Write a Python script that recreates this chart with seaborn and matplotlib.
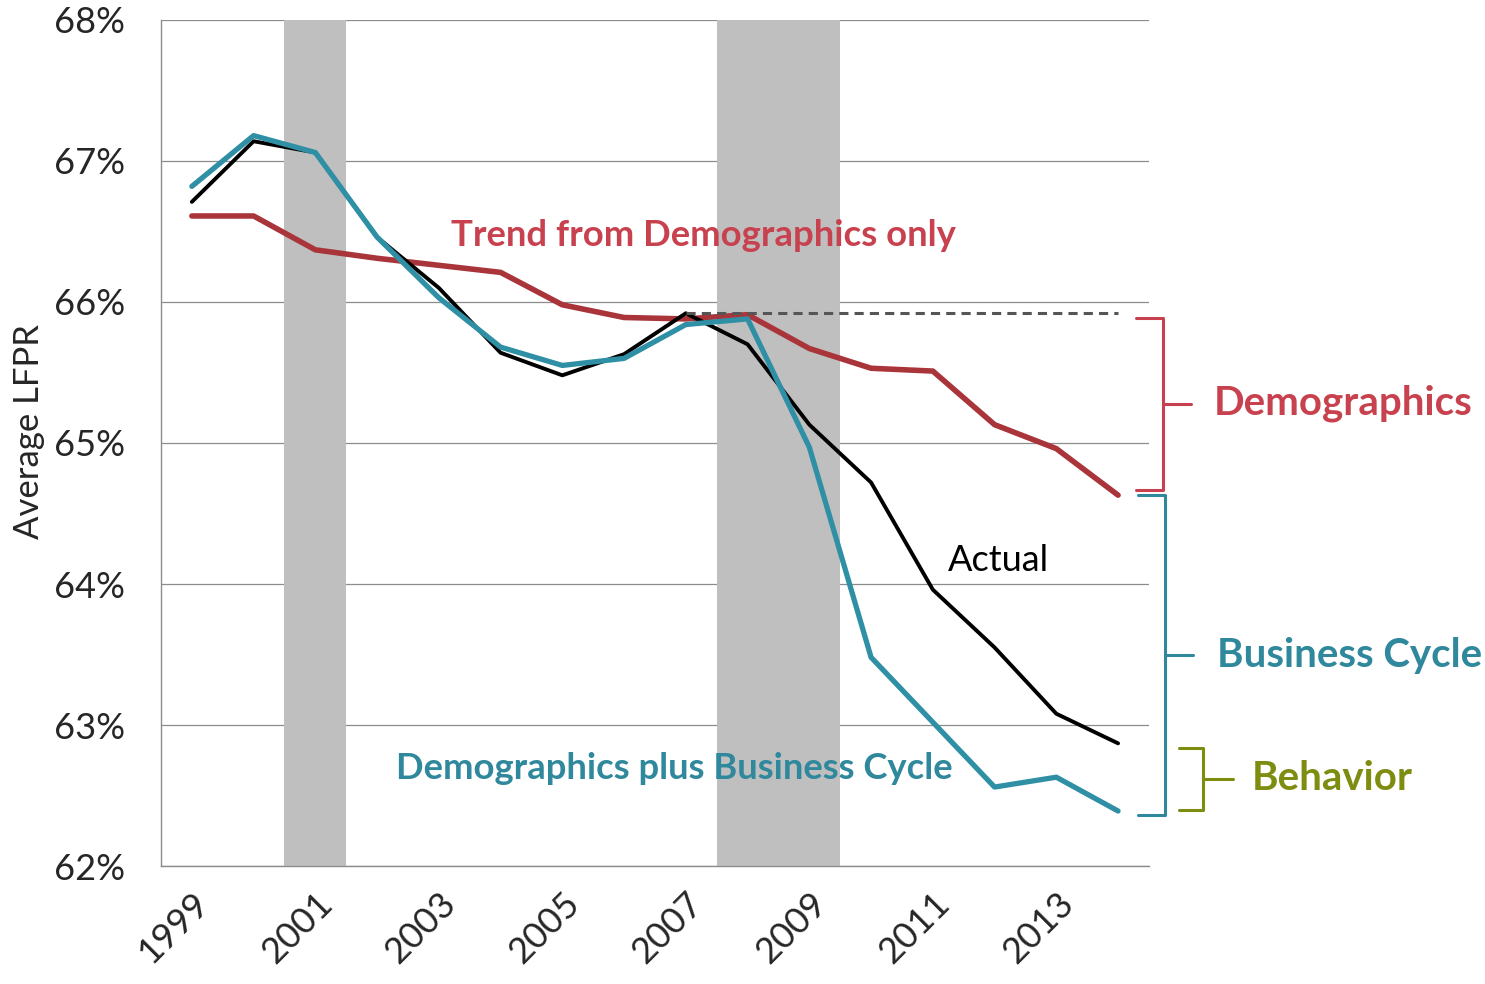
import matplotlib
matplotlib.use("Agg")
from matplotlib import pyplot as plt
import pandas as pd
import seaborn as sns

years = [1999, 2000, 2001, 2002, 2003, 2004, 2005, 2006,
         2007, 2008, 2009, 2010, 2011, 2012, 2013, 2014]
actual = [66.71, 67.14, 67.06, 66.46, 66.10, 65.64, 65.48, 65.63,
          65.92, 65.70, 65.13, 64.72, 63.96, 63.55, 63.08, 62.87]
demo_trend = [66.61, 66.61, 66.37, 66.31, 66.26, 66.21, 65.98, 65.89,
              65.88, 65.91, 65.67, 65.53, 65.51, 65.13, 64.96, 64.63]
demo_plus_cycle = [66.82, 67.18, 67.06, 66.46, 66.03, 65.68, 65.55, 65.60,
                   65.84, 65.88, 64.97, 63.48, 63.02, 62.56, 62.63, 62.39]
recession_years = [2001, 2008, 2009]
peak_year = 2007
y_ticks = [62, 63, 64, 65, 66, 67, 68]

RED_LINE = "#a9353b"
RED_TEXT = "#c8414e"
TEAL_LINE = "#2f90a5"
TEAL_TEXT = "#2f889c"
GREEN = "#7e8c10"
GRID = "#8c8c8c"

sns.set_style("white")
plt.rcParams["font.family"] = ["Lato", "DejaVu Sans"]

df = pd.DataFrame({"idx": range(len(years)), "year": years,
                   "actual": actual, "trend": demo_trend, "cycle": demo_plus_cycle})

fig = plt.figure(figsize=(14.85, 9.84), dpi=100)
ax = fig.add_axes([0.1084, 0.1199, 0.6653, 0.8598])

# recession shading
for yr in recession_years:
    i = years.index(yr)
    ax.axvspan(i - 0.5, i + 0.5, color="#bfbfbf", lw=0, zorder=1)

sns.lineplot(data=df, x="idx", y="trend", color=RED_LINE, lw=4, ax=ax, zorder=3)
sns.lineplot(data=df, x="idx", y="actual", color="black", lw=2.8, ax=ax, zorder=4)
sns.lineplot(data=df, x="idx", y="cycle", color=TEAL_LINE, lw=3.8, ax=ax, zorder=5)

# dashed level from the pre-recession peak
p = years.index(peak_year)
ax.hlines(actual[p], p, len(years) - 1, colors="#555555", lw=2.2,
          linestyles=(0, (3, 2)), zorder=6)

ax.set_xlim(-0.5, len(years) - 0.5)
ax.set_ylim(y_ticks[0], y_ticks[-1])
ax.set_yticks(y_ticks)
ax.set_yticklabels([f"{v}%" for v in y_ticks])
ax.set_xticks(range(0, len(years), 2))
ax.set_xticklabels([str(y) for y in years[::2]], rotation=45, ha="right",
                   rotation_mode="anchor")
ax.set_xticks([i - 0.5 for i in range(len(years) + 1)], minor=True)
ax.tick_params(axis="x", which="major", length=0, pad=15, labelsize=26)
ax.tick_params(axis="x", which="minor", length=9, width=1, color=GRID)
ax.tick_params(axis="y", length=0, pad=26, labelsize=26)
ax.set_xlabel("")
ax.set_ylabel("Average LFPR", fontsize=25)
ax.yaxis.set_label_coords(-0.117, 0.513)

ax.yaxis.grid(True, color=GRID, lw=0.9)
ax.set_axisbelow(True)
for s in ["top", "right"]:
    ax.spines[s].set_visible(False)
for s in ["left", "bottom"]:
    ax.spines[s].set_color(GRID)
    ax.spines[s].set_linewidth(1)

# series labels
ax.text(8.28, 66.47, "Trend from Demographics only", color=RED_TEXT,
        fontsize=26.3, fontweight="bold", ha="center", va="center")
ax.text(12.25, 64.17, "Actual", color="black", fontsize=26, ha="left", va="center")
ax.text(3.31, 62.695, "Demographics plus Business Cycle", color=TEAL_TEXT,
        fontsize=26.2, fontweight="bold", ha="left", va="center")


def brace(top, bottom, x_left, x_v, x_tip, color, label, x_text):
    mid = (top + bottom) / 2
    ax.plot([x_left, x_v, x_v, x_left], [top, top, bottom, bottom],
            color=color, lw=2.2, clip_on=False, solid_joinstyle="round")
    ax.plot([x_v, x_tip], [mid, mid], color=color, lw=2.2, clip_on=False)
    ax.text(x_text, mid, label, color=color, fontsize=29, fontweight="bold",
            ha="left", va="center", clip_on=False)


brace(actual[p] - 0.03, demo_trend[-1] + 0.04, 15.29, 15.73, 16.18,
      RED_TEXT, "Demographics", 16.55)
brace(demo_trend[-1], demo_plus_cycle[-1] - 0.03, 15.32, 15.76, 16.21,
      TEAL_TEXT, "Business Cycle", 16.60)
brace(actual[-1] - 0.03, demo_plus_cycle[-1] + 0.01, 15.99, 16.37, 16.86,
      GREEN, "Behavior", 17.17)

fig.savefig("out.png", dpi=100)
